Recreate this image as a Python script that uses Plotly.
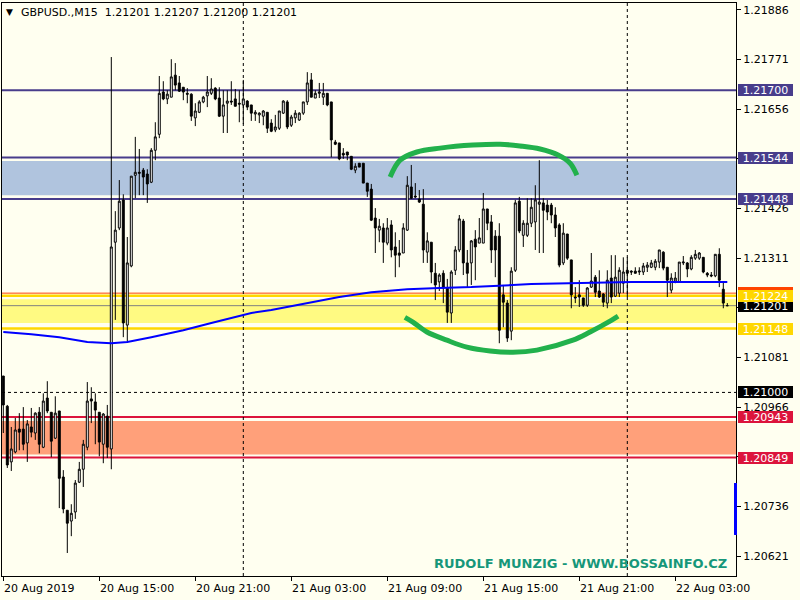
import pandas as pd
import plotly.graph_objects as go

# ---------------- data ----------------
header_text = "GBPUSD.,M15  1.21201 1.21207 1.21200 1.21201"
watermark_text = "RUDOLF MUNZIG - WWW.BOSSAINFO.CZ"
start_time = "2019-08-20 09:00"

opens = [1.21038, 1.20968, 1.20839, 1.20862, 1.20915, 1.20915, 1.20883, 1.20920, 1.20906, 1.20954,
         1.20873, 1.20987, 1.20954, 1.20894, 1.20957, 1.20804, 1.20727, 1.20702, 1.20723, 1.20792,
         1.20822, 1.20873, 1.20985, 1.20978, 1.20954, 1.20880, 1.20945, 1.20869, 1.21348, 1.21381,
         1.21446, 1.21156, 1.21293, 1.21503, 1.21510, 1.21515, 1.21506, 1.21487, 1.21561, 1.21598,
         1.21696, 1.21680, 1.21684, 1.21735, 1.21717, 1.21707, 1.21693, 1.21691, 1.21636, 1.21649,
         1.21673, 1.21687, 1.21693, 1.21705, 1.21682, 1.21640, 1.21670, 1.21675, 1.21680, 1.21670,
         1.21666, 1.21675, 1.21666, 1.21645, 1.21643, 1.21640, 1.21649, 1.21624, 1.21608, 1.21612,
         1.21647, 1.21673, 1.21619, 1.21636, 1.21631, 1.21647, 1.21673, 1.21724, 1.21682, 1.21693,
         1.21684, 1.21693, 1.21673, 1.21580, 1.21578, 1.21554, 1.21557, 1.21547, 1.21515, 1.21531,
         1.21531, 1.21485, 1.21471, 1.21404, 1.21376, 1.21381, 1.21346, 1.21388, 1.21337, 1.21323,
         1.21323, 1.21376, 1.21476, 1.21455, 1.21448, 1.21436, 1.21325, 1.21348, 1.21276, 1.21256,
         1.21276, 1.21242, 1.21184, 1.21283, 1.21330, 1.21397, 1.21300, 1.21300, 1.21355, 1.21346,
         1.21346, 1.21425, 1.21395, 1.21362, 1.21362, 1.21226, 1.21207, 1.21142, 1.21283, 1.21443,
         1.21364, 1.21364, 1.21392, 1.21395, 1.21436, 1.21439, 1.21434, 1.21434, 1.21411, 1.21388,
         1.21300, 1.21367, 1.21307, 1.21221, 1.21226, 1.21219, 1.21202, 1.21244, 1.21267, 1.21235,
         1.21228, 1.21207, 1.21265, 1.21223, 1.21230, 1.21253, 1.21283, 1.21281, 1.21281, 1.21279,
         1.21279, 1.21290, 1.21290, 1.21290, 1.21302, 1.21325, 1.21290, 1.21237, 1.21258, 1.21256,
         1.21300, 1.21300, 1.21286, 1.21311, 1.21311, 1.21313, 1.21276, 1.21272, 1.21270, 1.21320,
         1.21239, 1.21201]

highs = [1.21038, 1.20971, 1.20920, 1.20941, 1.20952, 1.20966, 1.20936, 1.20964, 1.20954, 1.20966,
         1.20998, 1.21026, 1.20954, 1.20991, 1.20957, 1.20820, 1.20727, 1.20741, 1.20797, 1.20839,
         1.20890, 1.21024, 1.21012, 1.20998, 1.20954, 1.20952, 1.20971, 1.21777, 1.21420, 1.21492,
         1.21459, 1.21360, 1.21501, 1.21592, 1.21564, 1.21520, 1.21517, 1.21566, 1.21626, 1.21733,
         1.21721, 1.21700, 1.21772, 1.21763, 1.21733, 1.21707, 1.21705, 1.21693, 1.21670, 1.21677,
         1.21687, 1.21733, 1.21728, 1.21707, 1.21707, 1.21700, 1.21700, 1.21721, 1.21703, 1.21700,
         1.21724, 1.21677, 1.21666, 1.21654, 1.21649, 1.21654, 1.21649, 1.21633, 1.21643, 1.21652,
         1.21677, 1.21677, 1.21643, 1.21654, 1.21649, 1.21673, 1.21742, 1.21740, 1.21700, 1.21717,
         1.21717, 1.21693, 1.21673, 1.21585, 1.21578, 1.21566, 1.21557, 1.21547, 1.21531, 1.21531,
         1.21531, 1.21485, 1.21483, 1.21427, 1.21402, 1.21392, 1.21404, 1.21399, 1.21371, 1.21353,
         1.21392, 1.21501, 1.21527, 1.21485, 1.21469, 1.21471, 1.21371, 1.21348, 1.21300, 1.21276,
         1.21283, 1.21263, 1.21283, 1.21339, 1.21411, 1.21402, 1.21330, 1.21353, 1.21376, 1.21404,
         1.21462, 1.21425, 1.21411, 1.21376, 1.21392, 1.21249, 1.21214, 1.21290, 1.21446, 1.21453,
         1.21399, 1.21450, 1.21450, 1.21480, 1.21538, 1.21450, 1.21446, 1.21439, 1.21429, 1.21392,
         1.21392, 1.21367, 1.21307, 1.21244, 1.21260, 1.21219, 1.21244, 1.21323, 1.21272, 1.21283,
         1.21230, 1.21283, 1.21318, 1.21318, 1.21290, 1.21313, 1.21313, 1.21283, 1.21290, 1.21290,
         1.21300, 1.21302, 1.21307, 1.21309, 1.21330, 1.21327, 1.21290, 1.21276, 1.21279, 1.21302,
         1.21316, 1.21302, 1.21318, 1.21330, 1.21325, 1.21313, 1.21279, 1.21279, 1.21320, 1.21334,
         1.21256, 1.21207]

lows = [1.20906, 1.20825, 1.20818, 1.20859, 1.20866, 1.20866, 1.20839, 1.20896, 1.20890, 1.20859,
        1.20871, 1.20952, 1.20850, 1.20892, 1.20732, 1.20720, 1.20628, 1.20667, 1.20707, 1.20790,
        1.20781, 1.20866, 1.20929, 1.20880, 1.20852, 1.20836, 1.20848, 1.20822, 1.21168, 1.21376,
        1.21128, 1.21117, 1.21290, 1.21450, 1.21457, 1.21457, 1.21439, 1.21485, 1.21538, 1.21589,
        1.21677, 1.21668, 1.21684, 1.21700, 1.21696, 1.21677, 1.21670, 1.21629, 1.21617, 1.21647,
        1.21670, 1.21661, 1.21689, 1.21677, 1.21638, 1.21601, 1.21601, 1.21666, 1.21663, 1.21626,
        1.21622, 1.21654, 1.21629, 1.21629, 1.21624, 1.21619, 1.21601, 1.21603, 1.21603, 1.21608,
        1.21645, 1.21610, 1.21615, 1.21624, 1.21629, 1.21643, 1.21666, 1.21684, 1.21682, 1.21682,
        1.21666, 1.21663, 1.21545, 1.21573, 1.21538, 1.21541, 1.21538, 1.21515, 1.21508, 1.21522,
        1.21485, 1.21453, 1.21397, 1.21323, 1.21348, 1.21300, 1.21341, 1.21313, 1.21267, 1.21290,
        1.21323, 1.21374, 1.21448, 1.21450, 1.21439, 1.21300, 1.21300, 1.21253, 1.21214, 1.21235,
        1.21207, 1.21161, 1.21161, 1.21272, 1.21325, 1.21272, 1.21242, 1.21249, 1.21260, 1.21346,
        1.21346, 1.21376, 1.21300, 1.21267, 1.21114, 1.21151, 1.21117, 1.21121, 1.21279, 1.21369,
        1.21337, 1.21360, 1.21383, 1.21330, 1.21323, 1.21323, 1.21399, 1.21392, 1.21360, 1.21290,
        1.21295, 1.21307, 1.21195, 1.21207, 1.21198, 1.21198, 1.21198, 1.21242, 1.21221, 1.21219,
        1.21198, 1.21195, 1.21207, 1.21221, 1.21221, 1.21230, 1.21221, 1.21272, 1.21276, 1.21272,
        1.21272, 1.21279, 1.21288, 1.21283, 1.21288, 1.21283, 1.21221, 1.21230, 1.21253, 1.21256,
        1.21295, 1.21267, 1.21283, 1.21307, 1.21307, 1.21276, 1.21267, 1.21267, 1.21267, 1.21244,
        1.21195, 1.21200]

closes = [1.20971, 1.20832, 1.20869, 1.20913, 1.20908, 1.20880, 1.20927, 1.20908, 1.20952, 1.20880,
          1.20980, 1.20957, 1.20887, 1.20952, 1.20801, 1.20730, 1.20697, 1.20720, 1.20790, 1.20822,
          1.20880, 1.20980, 1.20980, 1.20959, 1.20885, 1.20950, 1.20873, 1.21337, 1.21376, 1.21443,
          1.21161, 1.21300, 1.21501, 1.21510, 1.21508, 1.21499, 1.21483, 1.21561, 1.21592, 1.21693,
          1.21680, 1.21691, 1.21731, 1.21712, 1.21698, 1.21696, 1.21691, 1.21640, 1.21652, 1.21673,
          1.21684, 1.21696, 1.21703, 1.21680, 1.21640, 1.21666, 1.21675, 1.21673, 1.21663, 1.21668,
          1.21680, 1.21661, 1.21647, 1.21649, 1.21647, 1.21652, 1.21612, 1.21605, 1.21615, 1.21652,
          1.21675, 1.21615, 1.21638, 1.21647, 1.21647, 1.21673, 1.21717, 1.21684, 1.21693, 1.21696,
          1.21693, 1.21666, 1.21585, 1.21575, 1.21541, 1.21550, 1.21550, 1.21517, 1.21524, 1.21522,
          1.21485, 1.21466, 1.21399, 1.21381, 1.21385, 1.21348, 1.21381, 1.21330, 1.21318, 1.21318,
          1.21381, 1.21480, 1.21450, 1.21453, 1.21441, 1.21330, 1.21351, 1.21279, 1.21249, 1.21272,
          1.21242, 1.21186, 1.21279, 1.21330, 1.21402, 1.21300, 1.21276, 1.21351, 1.21337, 1.21358,
          1.21425, 1.21392, 1.21330, 1.21330, 1.21144, 1.21209, 1.21126, 1.21281, 1.21439, 1.21374,
          1.21392, 1.21392, 1.21429, 1.21446, 1.21441, 1.21422, 1.21418, 1.21411, 1.21381, 1.21295,
          1.21369, 1.21311, 1.21226, 1.21219, 1.21221, 1.21202, 1.21242, 1.21258, 1.21232, 1.21221,
          1.21209, 1.21260, 1.21221, 1.21267, 1.21283, 1.21279, 1.21276, 1.21279, 1.21276, 1.21281,
          1.21293, 1.21295, 1.21300, 1.21304, 1.21330, 1.21288, 1.21260, 1.21265, 1.21265, 1.21302,
          1.21302, 1.21286, 1.21313, 1.21320, 1.21323, 1.21279, 1.21272, 1.21270, 1.21320, 1.21260,
          1.21207, 1.21201]

# moving average (read at selected bars)
ma_bars = [0, 7, 14, 21, 27, 31, 37, 45, 52, 62, 67, 76, 84, 92, 101, 109, 117, 132, 144, 157, 169, 181]
ma_values = [1.21140, 1.21135, 1.21128, 1.21117, 1.21114, 1.21117, 1.21128, 1.21144, 1.21161, 1.21184,
             1.21191, 1.21207, 1.21221, 1.21232, 1.21239, 1.21242, 1.21244, 1.21251, 1.21253, 1.21256,
             1.21256, 1.21256]

# hand-drawn green arcs (bar position, price)
arc_top_bars = [96.7, 99.2, 103.4, 109.2, 117.4, 124.2, 129.2, 134.2, 138.7, 141.7, 143.4]
arc_top_prices = [1.21499, 1.21538, 1.21557, 1.21566, 1.21573, 1.21575, 1.21571, 1.21564, 1.21550, 1.21531, 1.21503]
arc_bottom_bars = [100.4, 102.4, 105.9, 110.9, 115.9, 121.7, 127.4, 133.4, 142.4, 146.7, 150.9, 153.7]
arc_bottom_prices = [1.21174, 1.21163, 1.21140, 1.21121, 1.21105, 1.21096, 1.21093, 1.21098, 1.21121, 1.21140, 1.21161, 1.21177]

# horizontal levels
resistance_levels = [1.21700, 1.21544, 1.21448]
yellow_levels = [1.21224, 1.21148]
red_levels = [1.20943, 1.20849]
orange_level = 1.21230
bid_level = 1.21201
round_level = 1.21000

# zones
blue_zone = [1.21457, 1.21536]
yellow_zone = [1.21161, 1.21216]
salmon_zone = [1.20856, 1.20934]

# axes
y_ticks = [1.21886, 1.21771, 1.21656, 1.21541, 1.21426, 1.21311, 1.21196, 1.21081,
           1.20966, 1.20851, 1.20736, 1.20621]
y_ticks_hidden = [1.21541, 1.21196, 1.20851]   # covered by the price tags
x_tick_bars = [0, 24, 48, 72, 96, 120, 144, 168]
x_tick_labels = ["20 Aug 2019", "20 Aug 15:00", "20 Aug 21:00", "21 Aug 03:00",
                 "21 Aug 09:00", "21 Aug 15:00", "21 Aug 21:00", "22 Aug 03:00"]
day_separator_bars = [60, 156]

# ---------------- figure ----------------
BG = "#FFFFF0"
FONT = "DejaVu Sans"
t0 = pd.Timestamp(start_time)
times = pd.date_range(start_time, periods=len(opens), freq="15min")


def bar_time(b):
    return t0 + pd.Timedelta(minutes=15 * b)


fig = go.Figure()

fig.add_trace(go.Candlestick(
    x=times, open=opens, high=highs, low=lows, close=closes,
    increasing=dict(line=dict(color="black", width=1), fillcolor="white"),
    decreasing=dict(line=dict(color="black", width=1), fillcolor="black"),
    whiskerwidth=0, showlegend=False, hoverinfo="skip"))

fig.add_trace(go.Scatter(
    x=[bar_time(b) for b in ma_bars], y=ma_values, mode="lines",
    line=dict(color="#0000FF", width=2), showlegend=False, hoverinfo="skip"))

for bars, prices in [(arc_top_bars, arc_top_prices), (arc_bottom_bars, arc_bottom_prices)]:
    fig.add_trace(go.Scatter(
        x=[bar_time(b) for b in bars], y=prices, mode="lines",
        line=dict(color="#22B14C", width=5, shape="spline"),
        showlegend=False, hoverinfo="skip"))

# zones
for (lo, hi), col in [(blue_zone, "#B0C4DE"), (yellow_zone, "#FFFA82"), (salmon_zone, "#FFA07A")]:
    fig.add_shape(type="rect", xref="paper", x0=0, x1=1, yref="y", y0=lo, y1=hi,
                  fillcolor=col, line=dict(width=0), layer="below")

# level lines
for lv in resistance_levels:
    fig.add_shape(type="line", xref="paper", x0=0, x1=1, yref="y", y0=lv, y1=lv,
                  line=dict(color="#483D8B", width=2), layer="below")
for lv in yellow_levels:
    fig.add_shape(type="line", xref="paper", x0=0, x1=1, yref="y", y0=lv, y1=lv,
                  line=dict(color="#FFD700", width=2.5), layer="below")
for lv in red_levels:
    fig.add_shape(type="line", xref="paper", x0=0, x1=1, yref="y", y0=lv, y1=lv,
                  line=dict(color="#DC143C", width=2), layer="below")
fig.add_shape(type="line", xref="paper", x0=0, x1=1, yref="y", y0=orange_level, y1=orange_level,
              line=dict(color="#FF4500", width=1), layer="below")
fig.add_shape(type="line", xref="paper", x0=0, x1=1, yref="y", y0=bid_level, y1=bid_level,
              line=dict(color="#808080", width=1), layer="below")
fig.add_shape(type="line", xref="paper", x0=0, x1=1, yref="y", y0=round_level, y1=round_level,
              line=dict(color="black", width=1, dash="3px,3px"), layer="below")
for b in day_separator_bars:
    fig.add_shape(type="line", xref="x", x0=bar_time(b), x1=bar_time(b), yref="paper", y0=0, y1=1,
                  line=dict(color="black", width=1, dash="3px,3px"), layer="below")

# small blue bar on the price scale
fig.add_shape(type="rect", xref="paper", x0=0.9973, x1=1.0014, yref="paper", y0=0.0716, y1=0.1623,
              fillcolor="#0000FF", line=dict(width=0), layer="above")


# price tags
def tag(price, color, show_text=True):
    fig.add_annotation(xref="paper", x=1, yref="y", y=price,
                       text=f"{price:.5f}" if show_text else " ",
                       showarrow=False, xanchor="left", yanchor="middle", xshift=2,
                       bgcolor=color, borderwidth=0, borderpad=1, width=53, height=10,
                       font=dict(color="white", family=FONT, size=11))


for lv in resistance_levels:
    tag(lv, "#483D8B")
tag(bid_level, "black")
tag(orange_level, "#FF4500", show_text=False)   # hidden behind the gold tag
for lv in yellow_levels:
    tag(lv, "#FFD700")
tag(round_level, "black")
for lv in red_levels:
    tag(lv, "#DC143C")

# x tick labels (left aligned at the tick like MT4)
for b, lab in zip(x_tick_bars, x_tick_labels):
    fig.add_annotation(xref="x", x=bar_time(b), yref="paper", y=0, text=lab, showarrow=False,
                       xanchor="left", yanchor="middle", yshift=-12, xshift=-1,
                       font=dict(color="black", family=FONT, size=11))

# header
fig.add_annotation(xref="paper", x=0, yref="paper", y=1, text="\u25BC", showarrow=False,
                   xanchor="left", yanchor="middle", xshift=2, yshift=-9,
                   font=dict(color="black", family=FONT, size=9))
fig.add_annotation(xref="paper", x=0, yref="paper", y=1, text=header_text, showarrow=False,
                   xanchor="left", yanchor="middle", xshift=17, yshift=-9,
                   font=dict(color="black", family=FONT, size=11))
# watermark
fig.add_annotation(xref="paper", x=0.9905, yref="paper", y=0.021, text="<b>" + watermark_text + "</b>",
                   showarrow=False, xanchor="right", yanchor="middle",
                   font=dict(color="#16977A", family="DejaVu Sans", size=13))

x_start = bar_time(-0.325)
x_end = bar_time(183.175)

fig.update_layout(
    width=800, height=600,
    margin=dict(l=2, r=64, t=3, b=24),
    paper_bgcolor=BG, plot_bgcolor=BG,
    showlegend=False,
    font=dict(family=FONT, size=11, color="black"),
    xaxis=dict(range=[x_start, x_end], rangeslider=dict(visible=False), showgrid=False,
               zeroline=False, showline=True, linecolor="black", linewidth=1, mirror=True,
               tickmode="array", tickvals=[bar_time(b) for b in x_tick_bars],
               showticklabels=False, ticks="outside", ticklen=4, tickcolor="black"),
    yaxis=dict(range=[1.205747, 1.219022], side="right", showgrid=False, zeroline=False,
               showline=True, linecolor="black", linewidth=1, mirror=True,
               tickmode="array", tickvals=y_ticks,
               ticktext=["" if v in y_ticks_hidden else f"{v:.5f}" for v in y_ticks],
               ticks="outside", ticklen=4, tickcolor="black",
               tickfont=dict(family=FONT, size=11, color="black")),
)

fig.write_html("out.html", config={"displayModeBar": False},
               post_script="document.body.style.margin='0';document.body.style.background='#FFFFF0';")
